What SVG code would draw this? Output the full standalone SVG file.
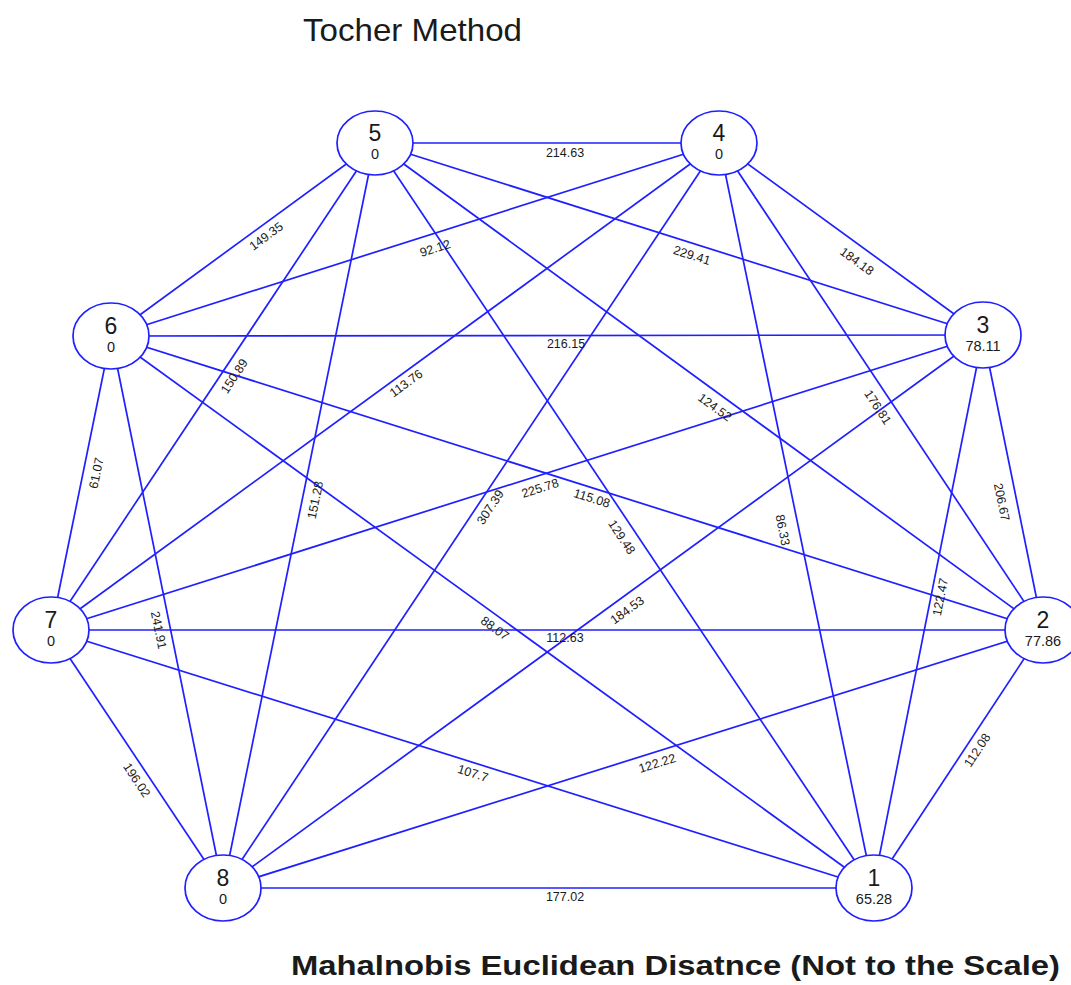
<svg xmlns="http://www.w3.org/2000/svg" width="1071" height="985" viewBox="0 0 1071 985">
<style>
.e{stroke:#1f1fff;stroke-width:1.7;fill:none}
.n ellipse{fill:#fff;stroke:#1f1fff;stroke-width:1.7}
.num{font-family:"Liberation Sans",Arial,sans-serif;font-size:23px;fill:#1a1a1a;text-anchor:middle}
.val{font-family:"Liberation Sans",Arial,sans-serif;font-size:14.5px;fill:#1a1a1a;text-anchor:middle}
.lb{font-family:"Liberation Sans",Arial,sans-serif;font-size:12.5px;fill:#1a1a1a;text-anchor:middle}
</style>
<rect width="1071" height="985" fill="#fff"/>
<text x="303" y="41" font-family="'Liberation Sans',Arial,sans-serif" font-size="32" fill="#1a1a1a" textLength="219" lengthAdjust="spacingAndGlyphs">Tocher Method</text>
<g id="connectors">
<line class="e" x1="375" y1="143" x2="719" y2="143"/>
<line class="e" x1="375" y1="143" x2="111" y2="336"/>
<line class="e" x1="719" y1="143" x2="111" y2="336"/>
<line class="e" x1="375" y1="143" x2="983" y2="335"/>
<line class="e" x1="719" y1="143" x2="983" y2="335"/>
<line class="e" x1="111" y1="336" x2="983" y2="335"/>
<line class="e" x1="719" y1="143" x2="51" y2="630"/>
<line class="e" x1="375" y1="143" x2="51" y2="630"/>
<line class="e" x1="375" y1="143" x2="1043" y2="630"/>
<line class="e" x1="719" y1="143" x2="1043" y2="630"/>
<line class="e" x1="111" y1="336" x2="51" y2="630"/>
<line class="e" x1="375" y1="143" x2="223" y2="888"/>
<line class="e" x1="719" y1="143" x2="223" y2="888"/>
<line class="e" x1="983" y1="335" x2="51" y2="630"/>
<line class="e" x1="111" y1="336" x2="1043" y2="630"/>
<line class="e" x1="375" y1="143" x2="873" y2="888"/>
<line class="e" x1="719" y1="143" x2="873" y2="888"/>
<line class="e" x1="983" y1="335" x2="1043" y2="630"/>
<line class="e" x1="111" y1="336" x2="223" y2="888"/>
<line class="e" x1="111" y1="336" x2="873" y2="888"/>
<line class="e" x1="51" y1="630" x2="1043" y2="630"/>
<line class="e" x1="983" y1="335" x2="223" y2="888"/>
<line class="e" x1="983" y1="335" x2="873" y2="888"/>
<line class="e" x1="51" y1="630" x2="223" y2="888"/>
<line class="e" x1="51" y1="630" x2="873" y2="888"/>
<line class="e" x1="1043" y1="630" x2="223" y2="888"/>
<line class="e" x1="1043" y1="630" x2="873" y2="888"/>
<line class="e" x1="223" y1="888" x2="873" y2="888"/>
<g>
<text class="lb" transform="translate(565,152)" dy="4.5">214.63</text>
<text class="lb" transform="translate(266,236) rotate(-36.2)" dy="4.5">149.35</text>
<text class="lb" transform="translate(435,248) rotate(-17.6)" dy="4.5">92.12</text>
<text class="lb" transform="translate(692,255) rotate(17.5)" dy="4.5">229.41</text>
<text class="lb" transform="translate(857,261) rotate(36)" dy="4.5">184.18</text>
<text class="lb" transform="translate(566,343)" dy="4.5">216.15</text>
<text class="lb" transform="translate(406,383) rotate(-36.1)" dy="4.5">113.76</text>
<text class="lb" transform="translate(234,376) rotate(-56.4)" dy="4.5">150.89</text>
<text class="lb" transform="translate(715,407) rotate(36.1)" dy="4.5">124.52</text>
<text class="lb" transform="translate(878,407) rotate(56.4)" dy="4.5">176.81</text>
<text class="lb" transform="translate(96,473) rotate(-78.5)" dy="4.5">61.07</text>
<text class="lb" transform="translate(315,500) rotate(-78.5)" dy="4.5">151.28</text>
<text class="lb" transform="translate(490,507) rotate(-56.3)" dy="4.5">307.39</text>
<text class="lb" transform="translate(540,488) rotate(-17.6)" dy="4.5">225.78</text>
<text class="lb" transform="translate(592,498) rotate(17.5)" dy="4.5">115.08</text>
<text class="lb" transform="translate(622,537) rotate(56.2)" dy="4.5">129.48</text>
<text class="lb" transform="translate(783,530) rotate(78.3)" dy="4.5">86.33</text>
<text class="lb" transform="translate(1002,502) rotate(78.5)" dy="4.5">206.67</text>
<text class="lb" transform="translate(159,630) rotate(78.5)" dy="4.5">241.91</text>
<text class="lb" transform="translate(495,628) rotate(35.9)" dy="4.5">88.07</text>
<text class="lb" transform="translate(565,637)" dy="4.5">112.63</text>
<text class="lb" transform="translate(627,610) rotate(-36)" dy="4.5">184.53</text>
<text class="lb" transform="translate(940,597) rotate(-78.7)" dy="4.5">122.47</text>
<text class="lb" transform="translate(137,780) rotate(56.3)" dy="4.5">196.02</text>
<text class="lb" transform="translate(473,773) rotate(17.4)" dy="4.5">107.7</text>
<text class="lb" transform="translate(657,763) rotate(-17.5)" dy="4.5">122.22</text>
<text class="lb" transform="translate(977,750) rotate(-56.6)" dy="4.5">112.08</text>
<text class="lb" transform="translate(565,896)" dy="4.5">177.02</text>
</g>
</g>
<g id="node5" class="n"><ellipse cx="375" cy="143" rx="38" ry="32"/><text class="num" x="375" y="141">5</text><text class="val" x="375" y="159">0</text></g>
<g id="node4" class="n"><ellipse cx="719" cy="143" rx="38" ry="32"/><text class="num" x="719" y="141">4</text><text class="val" x="719" y="159">0</text></g>
<g id="node6" class="n"><ellipse cx="111" cy="336" rx="38" ry="33"/><text class="num" x="111" y="334">6</text><text class="val" x="111" y="352">0</text></g>
<g id="node3" class="n"><ellipse cx="983" cy="335" rx="38" ry="33"/><text class="num" x="983" y="333">3</text><text class="val" x="983" y="351">78.11</text></g>
<g id="node7" class="n"><ellipse cx="51" cy="630" rx="38" ry="33"/><text class="num" x="51" y="628">7</text><text class="val" x="51" y="646">0</text></g>
<g id="node2" class="n"><ellipse cx="1043" cy="630" rx="38" ry="33"/><text class="num" x="1043" y="628">2</text><text class="val" x="1043" y="646">77.86</text></g>
<g id="node8" class="n"><ellipse cx="223" cy="888" rx="38" ry="33"/><text class="num" x="223" y="886">8</text><text class="val" x="223" y="904">0</text></g>
<g id="node1" class="n"><ellipse cx="874" cy="888" rx="38" ry="33"/><text class="num" x="874" y="886">1</text><text class="val" x="874" y="904">65.28</text></g>
<text x="291" y="975" font-family="'Liberation Sans',Arial,sans-serif" font-size="27" font-weight="bold" fill="#1a1a1a" textLength="769" lengthAdjust="spacingAndGlyphs">Mahalnobis Euclidean Disatnce (Not to the Scale)</text>
</svg>
